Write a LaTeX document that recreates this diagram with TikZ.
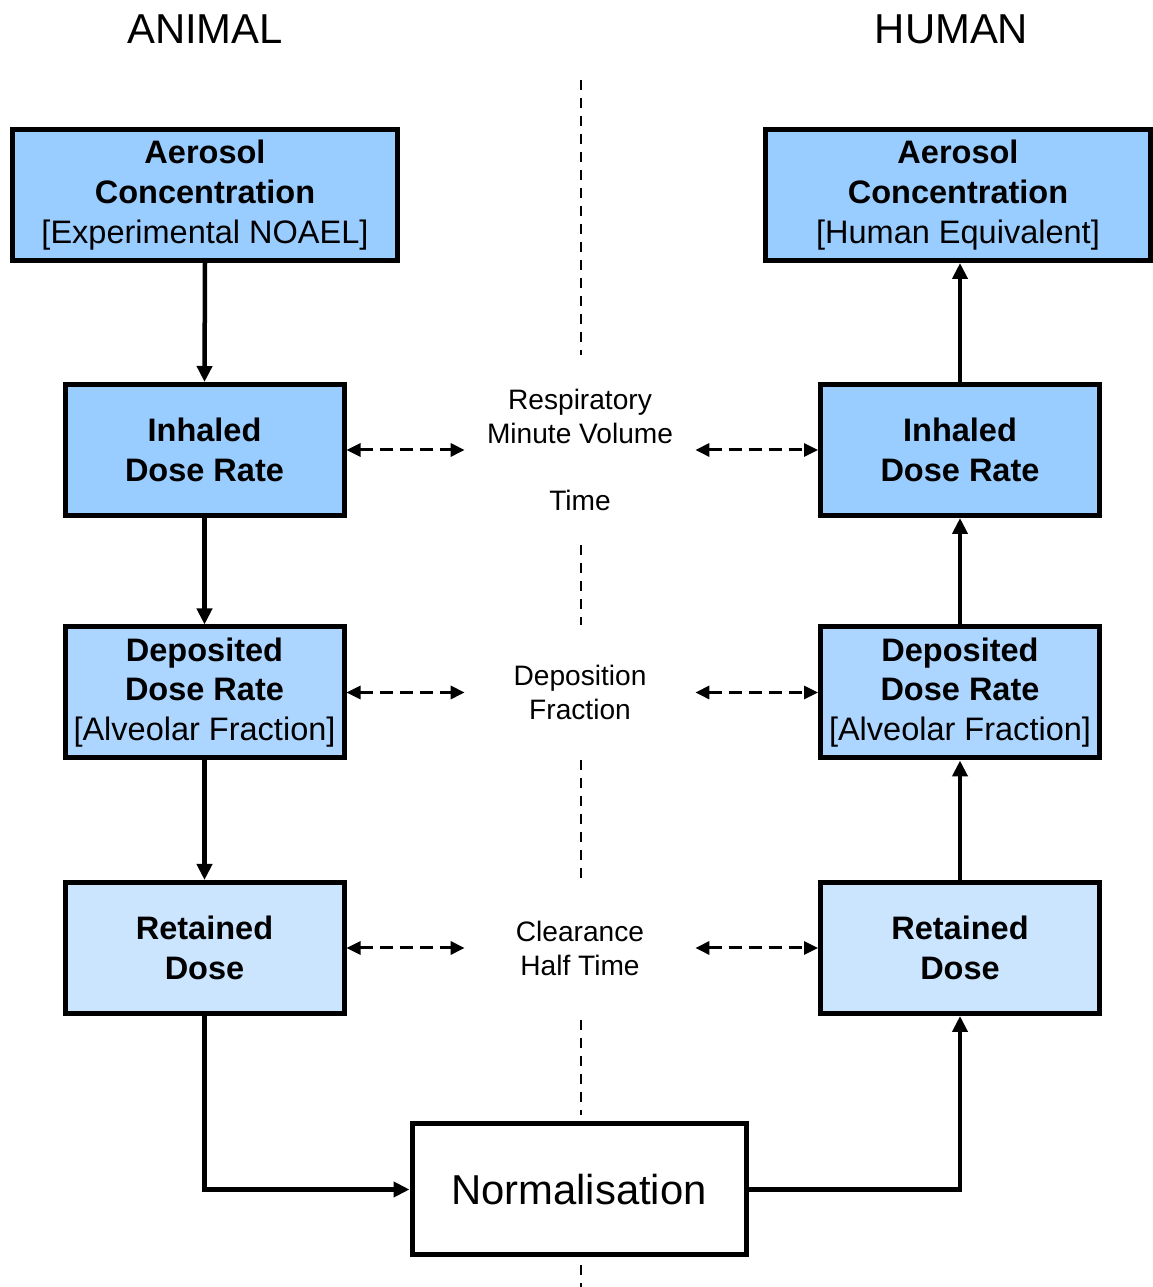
\documentclass[tikz,border=0pt]{standalone}
\usepackage{fontspec}
\setmainfont{Liberation Sans}
\usetikzlibrary{arrows.meta}
\definecolor{boxblue}{RGB}{153,204,255}
\definecolor{depblue}{RGB}{172,214,255}
\definecolor{retblue}{RGB}{204,229,255}
\tikzset{
    stage/.style={draw = black, line width = 0.1cm, align = center, inner sep = 0pt,
        font = \fontsize{18.5}{22.7}\selectfont, minimum height = 2.62cm},
    widestage/.style={stage, minimum width = 7.7cm},
    narrowstage/.style={stage, minimum width = 5.58cm},
    factor/.style={align = center, inner sep = 0pt, minimum width = 4.6cm,
        font = \fontsize{16}{19.3}\selectfont},
    title/.style={anchor = base, font = \fontsize{23.8}{28}\selectfont},
    flow/.style={line width = 0.09cm, -{Triangle[length = 0.32cm, width = 0.3cm]}},
    link/.style={line width = 0.06cm, dash pattern = on 0.26cm off 0.14cm,
        {Triangle[length = 0.28cm, width = 0.26cm]}-{Triangle[length = 0.28cm, width = 0.26cm]}},
    divider/.style={line width = 0.05cm, dash pattern = on 0.2cm off 0.16cm},
}

\begin{document}
\begin{tikzpicture}
\useasboundingbox (0,0) rectangle (23.06,25.74);
% titles
\node[title] (animal) at (4.10,24.86) {ANIMAL};
\node[title] (human) at (19.03,24.86) {HUMAN};
% centre line
\draw[divider] (11.62,24.14) -- (11.62,18.64);
\draw[divider] (11.62,14.84) -- (11.62,13.24);
\draw[divider] (11.62,10.54) -- (11.62,8.14);
\draw[divider] (11.62,5.34) -- (11.62,3.44);
\draw[divider] (11.62,0.44) -- (11.62,0);
% animal side
\node[widestage, fill = boxblue] (aerL) at (4.10,21.84) {\textbf{Aerosol}\\\textbf{Concentration}\\{[}Experimental NOAEL{]}};
\node[narrowstage, fill = boxblue] (inhL) at (4.09,16.74) {\textbf{Inhaled}\\\textbf{Dose Rate}};
\node[narrowstage, fill = depblue] (depL) at (4.09,11.89) {\textbf{Deposited}\\\textbf{Dose Rate}\\{[}Alveolar Fraction{]}};
\node[narrowstage, fill = retblue] (retL) at (4.09,6.78) {\textbf{Retained}\\\textbf{Dose}};
% human side
\node[widestage, fill = boxblue] (aerR) at (19.16,21.84) {\textbf{Aerosol}\\\textbf{Concentration}\\{[}Human Equivalent{]}};
\node[narrowstage, fill = boxblue] (inhR) at (19.20,16.74) {\textbf{Inhaled}\\\textbf{Dose Rate}};
\node[narrowstage, fill = depblue] (depR) at (19.20,11.89) {\textbf{Deposited}\\\textbf{Dose Rate}\\{[}Alveolar Fraction{]}};
\node[narrowstage, fill = retblue] (retR) at (19.20,6.78) {\textbf{Retained}\\\textbf{Dose}};
% middle
\node[factor] (rmv) at (11.60,16.74) {Respiratory\\Minute Volume\\[0.68cm]Time};
\node[factor] (depf) at (11.60,11.89) {Deposition\\Fraction};
\node[factor] (clear) at (11.60,6.78) {Clearance\\Half Time};
\node[stage, font = \fontsize{23.8}{28}\selectfont, minimum width = 6.68cm, fill = white] (norm) at (11.58,1.95) {Normalisation};
% connectors
\draw[flow] (aerL.south) -- (inhL.north);
\draw[flow] (inhL.south) -- (depL.north);
\draw[flow] (depL.south) -- (retL.north);
\draw[flow] (retL.south) |- (norm.west);
\draw[flow] (norm.east) -| (retR.south);
\draw[flow] (retR.north) -- (depR.south);
\draw[flow] (depR.north) -- (inhR.south);
\draw[flow] (inhR.north) -- (inhR.north |- aerR.south);
\draw[link] (inhL.east) -- (rmv.west);
\draw[link] (rmv.east) -- (inhR.west);
\draw[link] (depL.east) -- (depf.west);
\draw[link] (depf.east) -- (depR.west);
\draw[link] (retL.east) -- (clear.west);
\draw[link] (clear.east) -- (retR.west);
\end{tikzpicture}
\end{document}
